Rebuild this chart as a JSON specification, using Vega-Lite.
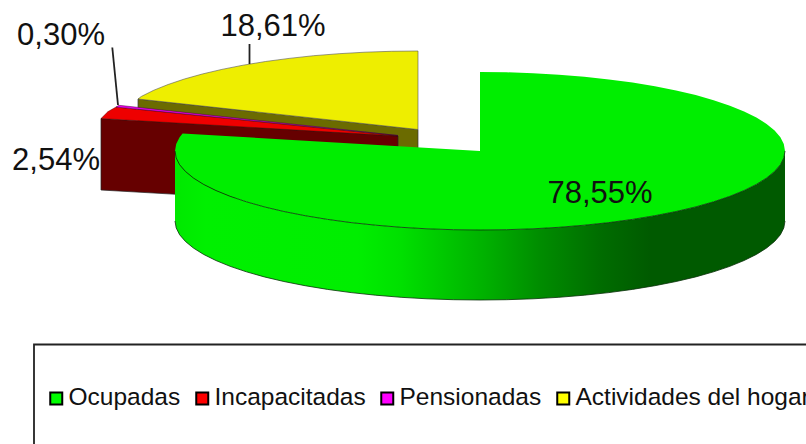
{"$schema":"https://vega.github.io/schema/vega-lite/v6.json","width":806,"height":444,"padding":0,"autosize":{"type":"none"},"background":"white","datasets":{"cats":[{"s":"Ocupadas","v":78.55},{"s":"Incapacitadas","v":2.54},{"s":"Pensionadas","v":0.3},{"s":"Actividades del hogar","v":18.61}],"tops":[
{"s":"Actividades del hogar","i":0,"x":418,"y":51},{"s":"Actividades del hogar","i":1,"x":391.4,"y":51.3},{"s":"Actividades del hogar","i":2,"x":365,"y":52.2},{"s":"Actividades del hogar","i":3,"x":339.1,"y":53.7},{"s":"Actividades del hogar","i":4,"x":313.7,"y":55.7},{"s":"Actividades del hogar","i":5,"x":289.1,"y":58.4},{"s":"Actividades del hogar","i":6,"x":265.5,"y":61.5},{"s":"Actividades del hogar","i":7,"x":243.1,"y":65.2},{"s":"Actividades del hogar","i":8,"x":221.9,"y":69.4},{"s":"Actividades del hogar","i":9,"x":202.3,"y":74},{"s":"Actividades del hogar","i":10,"x":184.4,"y":79},{"s":"Actividades del hogar","i":11,"x":168.1,"y":84.5},{"s":"Actividades del hogar","i":12,"x":153.9,"y":90.2},{"s":"Actividades del hogar","i":13,"x":141.6,"y":96.3},{"s":"Actividades del hogar","i":14,"x":138,"y":99},{"s":"Actividades del hogar","i":15,"x":418,"y":129.5},{"s":"Actividades del hogar","i":16,"x":418,"y":51},
{"s":"Incapacitadas","i":0,"x":101,"y":118.5},{"s":"Incapacitadas","i":1,"x":108,"y":111.6},{"s":"Incapacitadas","i":2,"x":116,"y":107},{"s":"Incapacitadas","i":3,"x":398,"y":136},{"s":"Incapacitadas","i":4,"x":101,"y":118.5},
{"s":"Pensionadas","i":0,"x":116,"y":107},{"s":"Pensionadas","i":1,"x":119,"y":105.3},{"s":"Pensionadas","i":2,"x":398,"y":135.5},{"s":"Pensionadas","i":3,"x":116,"y":107},
{"s":"Ocupadas","i":0,"x":480,"y":72},{"s":"Ocupadas","i":1,"x":506.6,"y":72.3},{"s":"Ocupadas","i":2,"x":533,"y":73.2},{"s":"Ocupadas","i":3,"x":558.9,"y":74.7},{"s":"Ocupadas","i":4,"x":584.3,"y":76.8},{"s":"Ocupadas","i":5,"x":608.9,"y":79.4},{"s":"Ocupadas","i":6,"x":632.5,"y":82.6},{"s":"Ocupadas","i":7,"x":654.9,"y":86.3},{"s":"Ocupadas","i":8,"x":676.1,"y":90.5},{"s":"Ocupadas","i":9,"x":695.7,"y":95.1},{"s":"Ocupadas","i":10,"x":713.6,"y":100.2},{"s":"Ocupadas","i":11,"x":729.9,"y":105.7},{"s":"Ocupadas","i":12,"x":744.1,"y":111.5},{"s":"Ocupadas","i":13,"x":756.4,"y":117.6},{"s":"Ocupadas","i":14,"x":766.6,"y":124},{"s":"Ocupadas","i":15,"x":774.6,"y":130.6},{"s":"Ocupadas","i":16,"x":780.4,"y":137.3},{"s":"Ocupadas","i":17,"x":783.8,"y":144.1},{"s":"Ocupadas","i":18,"x":785,"y":151},{"s":"Ocupadas","i":19,"x":783.8,"y":157.9},{"s":"Ocupadas","i":20,"x":780.4,"y":164.7},{"s":"Ocupadas","i":21,"x":774.6,"y":171.4},{"s":"Ocupadas","i":22,"x":766.6,"y":178},{"s":"Ocupadas","i":23,"x":756.4,"y":184.4},{"s":"Ocupadas","i":24,"x":744.1,"y":190.5},{"s":"Ocupadas","i":25,"x":729.9,"y":196.3},{"s":"Ocupadas","i":26,"x":713.6,"y":201.8},{"s":"Ocupadas","i":27,"x":695.7,"y":206.9},{"s":"Ocupadas","i":28,"x":676.1,"y":211.5},{"s":"Ocupadas","i":29,"x":654.9,"y":215.7},{"s":"Ocupadas","i":30,"x":632.5,"y":219.4},{"s":"Ocupadas","i":31,"x":608.9,"y":222.6},{"s":"Ocupadas","i":32,"x":584.3,"y":225.2},{"s":"Ocupadas","i":33,"x":558.9,"y":227.3},{"s":"Ocupadas","i":34,"x":533,"y":228.8},{"s":"Ocupadas","i":35,"x":506.6,"y":229.7},{"s":"Ocupadas","i":36,"x":480,"y":230},{"s":"Ocupadas","i":37,"x":453.4,"y":229.7},{"s":"Ocupadas","i":38,"x":427,"y":228.8},{"s":"Ocupadas","i":39,"x":401.1,"y":227.3},{"s":"Ocupadas","i":40,"x":375.7,"y":225.2},{"s":"Ocupadas","i":41,"x":351.1,"y":222.6},{"s":"Ocupadas","i":42,"x":327.5,"y":219.4},{"s":"Ocupadas","i":43,"x":305.1,"y":215.7},{"s":"Ocupadas","i":44,"x":283.9,"y":211.5},{"s":"Ocupadas","i":45,"x":264.3,"y":206.9},{"s":"Ocupadas","i":46,"x":246.4,"y":201.8},{"s":"Ocupadas","i":47,"x":230.1,"y":196.3},{"s":"Ocupadas","i":48,"x":215.9,"y":190.5},{"s":"Ocupadas","i":49,"x":203.6,"y":184.4},{"s":"Ocupadas","i":50,"x":193.4,"y":178},{"s":"Ocupadas","i":51,"x":185.4,"y":171.4},{"s":"Ocupadas","i":52,"x":179.6,"y":164.7},{"s":"Ocupadas","i":53,"x":176.2,"y":157.9},{"s":"Ocupadas","i":54,"x":175,"y":151},{"s":"Ocupadas","i":55,"x":176.2,"y":144.1},{"s":"Ocupadas","i":56,"x":179.6,"y":137.3},{"s":"Ocupadas","i":57,"x":182.6,"y":133.5},{"s":"Ocupadas","i":58,"x":480,"y":151},{"s":"Ocupadas","i":59,"x":480,"y":72}
],"sides":[
{"s":"olive","i":0,"x":138,"y":99},{"s":"olive","i":1,"x":418,"y":129.5},{"s":"olive","i":2,"x":418,"y":200},{"s":"olive","i":3,"x":138,"y":170},{"s":"olive","i":4,"x":138,"y":99},
{"s":"red","i":0,"x":101,"y":118.5},{"s":"red","i":1,"x":398,"y":136},{"s":"red","i":2,"x":398,"y":207},{"s":"red","i":3,"x":101,"y":190},{"s":"red","i":4,"x":101,"y":118.5}
],"wall":[
{"x":175,"t":151,"b":221},{"x":176.2,"t":157.9,"b":227.9},{"x":179.6,"t":164.7,"b":234.7},{"x":185.4,"t":171.4,"b":241.4},{"x":193.4,"t":178,"b":248},{"x":203.6,"t":184.4,"b":254.4},{"x":215.9,"t":190.5,"b":260.5},{"x":230.1,"t":196.3,"b":266.3},{"x":246.4,"t":201.8,"b":271.8},{"x":264.3,"t":206.9,"b":276.9},{"x":283.9,"t":211.5,"b":281.5},{"x":305.1,"t":215.7,"b":285.7},{"x":327.5,"t":219.4,"b":289.4},{"x":351.1,"t":222.6,"b":292.6},{"x":375.7,"t":225.2,"b":295.2},{"x":401.1,"t":227.3,"b":297.3},{"x":427,"t":228.8,"b":298.8},{"x":453.4,"t":229.7,"b":299.7},{"x":480,"t":230,"b":300},{"x":506.6,"t":229.7,"b":299.7},{"x":533,"t":228.8,"b":298.8},{"x":558.9,"t":227.3,"b":297.3},{"x":584.3,"t":225.2,"b":295.2},{"x":608.9,"t":222.6,"b":292.6},{"x":632.5,"t":219.4,"b":289.4},{"x":654.9,"t":215.7,"b":285.7},{"x":676.1,"t":211.5,"b":281.5},{"x":695.7,"t":206.9,"b":276.9},{"x":713.6,"t":201.8,"b":271.8},{"x":729.9,"t":196.3,"b":266.3},{"x":744.1,"t":190.5,"b":260.5},{"x":756.4,"t":184.4,"b":254.4},{"x":766.6,"t":178,"b":248},{"x":774.6,"t":171.4,"b":241.4},{"x":780.4,"t":164.7,"b":234.7},{"x":783.8,"t":157.9,"b":227.9},{"x":785,"t":151,"b":221}
],"labels":[{"t":"78,55%","x":600,"y":194},{"t":"18,61%","x":273,"y":27},{"t":"0,30%","x":61,"y":36},{"t":"2,54%","x":56,"y":161}],
"rules":[{"s":"a","i":0,"x":112.3,"y":47.5},{"s":"a","i":1,"x":118,"y":105},{"s":"b","i":0,"x":249.5,"y":44},{"s":"b","i":1,"x":249.5,"y":64},{"s":"frame","i":0,"x":34,"y":444},{"s":"frame","i":1,"x":34,"y":344.5},{"s":"frame","i":2,"x":806,"y":344.5}]},
"layer":[
{"data":{"name":"cats"},"mark":{"type":"point","filled":true,"shape":"square","opacity":0},"encoding":{"fill":{"field":"s","type":"nominal","scale":{"domain":["Ocupadas","Incapacitadas","Pensionadas","Actividades del hogar"],"range":["#00ff00","#ff0000","#ff00ff","#ffff00"]},"legend":{"orient":"none","legendX":44,"legendY":386,"direction":"horizontal","columns":4,"title":null,"symbolType":"square","symbolSize":144,"symbolOpacity":1,"symbolStrokeColor":"black","symbolStrokeWidth":2,"labelFont":"Liberation Sans","labelFontSize":24.5,"labelColor":"#111","labelLimit":500,"labelOffset":0,"columnPadding":9,"padding":0}}}},
{"data":{"name":"sides"},"transform":[{"filter":"datum.s=='olive'"}],"mark":{"type":"line","fill":"#6b6b00","stroke":"#333","strokeWidth":0.7},"encoding":{"x":{"field":"x","type":"quantitative","scale":{"domain":[0,806],"nice":false,"zero":false},"axis":null},"y":{"field":"y","type":"quantitative","scale":{"domain":[0,444],"reverse":true,"nice":false,"zero":false},"axis":null},"order":{"field":"i","type":"quantitative"}}},
{"data":{"name":"tops"},"transform":[{"filter":"datum.s=='Actividades del hogar'"}],"mark":{"type":"line","fill":"#eeee00","stroke":"#555","strokeWidth":0.6},"encoding":{"x":{"field":"x","type":"quantitative"},"y":{"field":"y","type":"quantitative"},"order":{"field":"i","type":"quantitative"}}},
{"data":{"name":"sides"},"transform":[{"filter":"datum.s=='red'"}],"mark":{"type":"line","fill":"#660000","stroke":"#222","strokeWidth":0.7},"encoding":{"x":{"field":"x","type":"quantitative"},"y":{"field":"y","type":"quantitative"},"order":{"field":"i","type":"quantitative"}}},
{"data":{"name":"tops"},"transform":[{"filter":"datum.s=='Incapacitadas'"}],"mark":{"type":"line","fill":"#ee0000","stroke":"#400000","strokeWidth":0.4},"encoding":{"x":{"field":"x","type":"quantitative"},"y":{"field":"y","type":"quantitative"},"order":{"field":"i","type":"quantitative"}}},
{"data":{"name":"tops"},"transform":[{"filter":"datum.s=='Pensionadas'"}],"mark":{"type":"line","fill":"#ee00ee","stroke":"#400040","strokeWidth":0.5},"encoding":{"x":{"field":"x","type":"quantitative"},"y":{"field":"y","type":"quantitative"},"order":{"field":"i","type":"quantitative"}}},
{"data":{"name":"wall"},"mark":{"type":"area","color":{"gradient":"linear","x1":0,"x2":1,"y1":0,"y2":0,"stops":[{"offset":0,"color":"#00e800"},{"offset":0.05,"color":"#00f000"},{"offset":0.3,"color":"#00ee00"},{"offset":0.37,"color":"#00e000"},{"offset":0.51,"color":"#00b000"},{"offset":0.6,"color":"#008c00"},{"offset":0.7,"color":"#006c00"},{"offset":0.78,"color":"#005a00"},{"offset":1,"color":"#005a00"}]}},"encoding":{"x":{"field":"x","type":"quantitative"},"y":{"field":"t","type":"quantitative"},"y2":{"field":"b"}}},
{"data":{"name":"tops"},"transform":[{"filter":"datum.s=='Ocupadas'"}],"mark":{"type":"line","fill":"#00ee00","stroke":null},"encoding":{"x":{"field":"x","type":"quantitative"},"y":{"field":"y","type":"quantitative"},"order":{"field":"i","type":"quantitative"}}},
{"data":{"name":"wall"},"mark":{"type":"line","stroke":"#0a300a","strokeWidth":0.8},"encoding":{"x":{"field":"x","type":"quantitative"},"y":{"field":"t","type":"quantitative"}}},
{"data":{"name":"wall"},"mark":{"type":"line","stroke":"#0a300a","strokeWidth":0.8},"encoding":{"x":{"field":"x","type":"quantitative"},"y":{"field":"b","type":"quantitative"}}},
{"data":{"name":"rules"},"mark":{"type":"line","stroke":"#222","strokeWidth":1.8},"encoding":{"x":{"field":"x","type":"quantitative"},"y":{"field":"y","type":"quantitative"},"detail":{"field":"s"},"order":{"field":"i","type":"quantitative"}}},
{"data":{"name":"labels"},"mark":{"type":"text","font":"Liberation Sans","fontSize":31,"color":"#111","align":"center","baseline":"middle"},"encoding":{"x":{"field":"x","type":"quantitative"},"y":{"field":"y","type":"quantitative"},"text":{"field":"t"}}}
],"config":{"view":{"stroke":null}}}
